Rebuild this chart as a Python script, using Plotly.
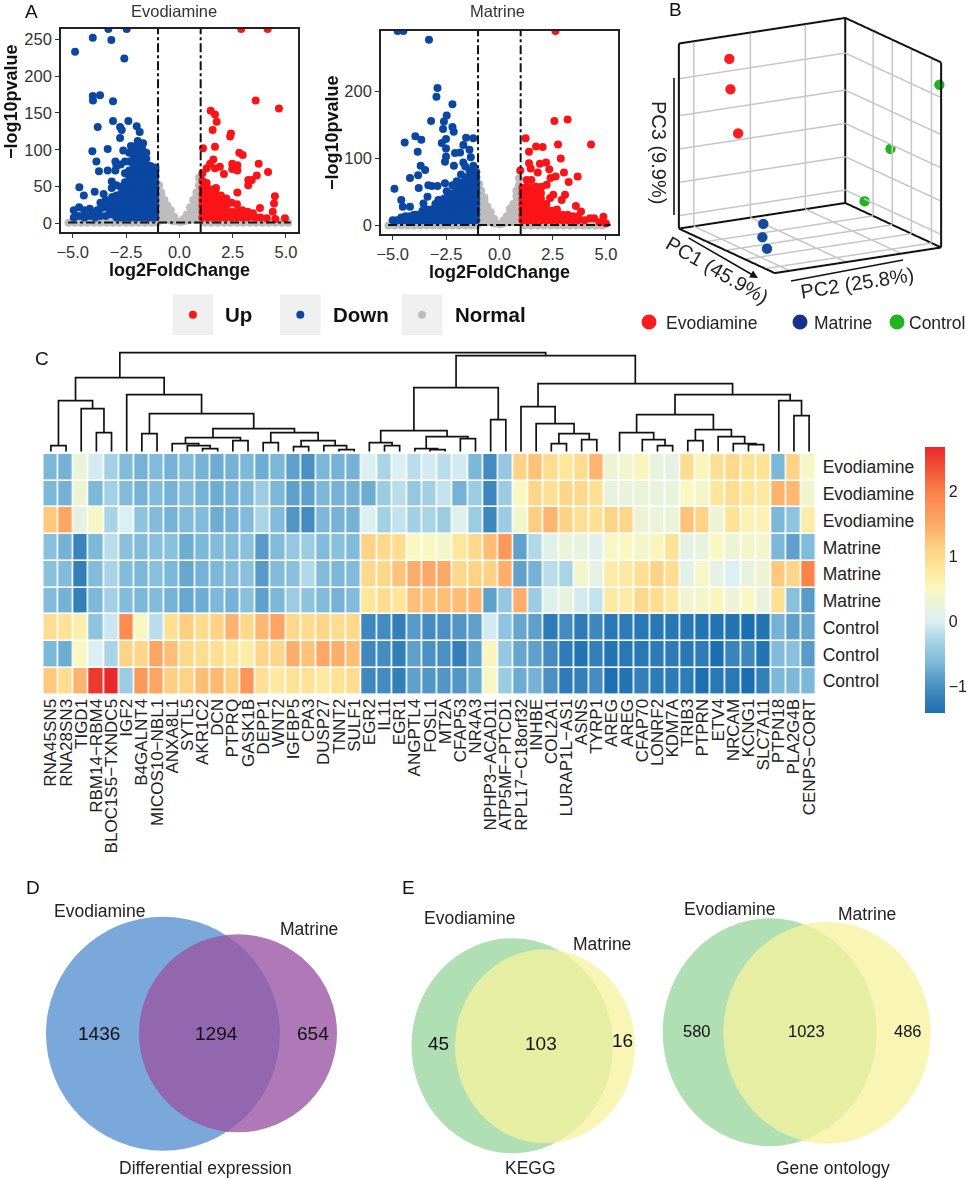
import plotly.graph_objects as go

W, H = 969, 1180
FONT = "Liberation Sans"

# ---------- Panel A data: (x, [y values]) columns ----------
evo_down = [
    (-3.33,[264]),(-2.47,[264]),(-4.06,[252]),(-3.19,[249]),(-4.89,[233]),(-2.58,[224]),
    (-4.06,[173]),(-3.72,[174]),(-4.05,[167]),(-3.11,[166,139]),(-2.39,[139]),(-3.83,[131]),
    (-2.0,[132]),(-2.78,[131,116]),(-2.7,[127]),(-1.86,[124]),(-1.95,[111]),(-1.7,[109]),
    (-2.27,[105]),(-3.36,[101,72]),(-4.08,[98]),(-2.63,[99]),(-3.89,[84]),(-3.77,[71]),
    (-3.0,[84,72]),(-4.69,[49]),(-4.48,[38]),(-3.97,[43]),(-3.17,[57,48]),(-3.55,[40]),
    (-4.95,[8,18]),(-4.7,[10,22]),(-4.45,[8,18]),(-4.2,[10,20]),(-3.95,[8,14]),(-3.85,[18]),
    (-3.7,[10,20,28]),(-3.45,[10,22,32]),(-3.3,[12,20,28]),(-3.15,[12,22,30,36]),
    (-2.95,[8,16,24,32,38,52,78]),(-2.75,[8,16,24,32,40,50,80]),
    (-2.55,[8,16,24,32,40,48,56,68,84]),
    (-2.35,[8,16,24,32,40,48,56,64,72,84,96]),
    (-2.15,[8,16,24,32,40,48,56,64,72,80,88,96,104]),
    (-1.95,[8,16,24,32,40,48,56,64,72,80,88,96,104,112]),
    (-1.75,[8,16,24,32,40,48,56,64,72,80,88,96,102]),
    (-1.55,[8,16,24,32,40,48,56,64,72,80,88,96]),
    (-1.35,[8,16,24,32,40,48,56,64,72,78]),
    (-1.12,[8,16,24,32,40,48,56,64,72,76]),
]
evo_up = [
    (2.9,[264]),(4.14,[264]),(3.58,[167]),(4.67,[156]),(1.47,[153]),(1.67,[148,104,75]),
    (1.75,[138]),(1.56,[127]),(2.42,[122]),(2.38,[118]),(1.11,[102]),(2.81,[96]),(2.97,[93]),
    (1.59,[87]),(1.44,[81]),(1.9,[77]),(2.48,[81,74]),(2.72,[79,72,42]),(3.72,[81]),(1.28,[75]),
    (4.16,[70]),(2.09,[67]),(3.63,[65]),(3.23,[59,52]),(3.4,[59]),(4.48,[37]),(4.44,[27]),
    (4.38,[16]),(3.78,[21]),(4.95,[7]),(4.5,[6]),(4.1,[7]),(3.6,[8]),
    (1.08,[8,16,24,32,40,48,58,68]),(1.28,[8,16,24,32,40,48,55]),(1.5,[8,16,24,32,40,46]),
    (1.72,[8,16,24,32,40,48]),(1.95,[8,16,24,32,38]),(2.2,[8,16,24,34]),(2.45,[8,16,28]),
    (2.7,[8,16,26]),(2.95,[8,18]),(3.2,[8,16]),(3.45,[9,14]),(3.8,[8]),
]
evo_normal = [
    (-5.2,[1]),(-4.9,[1]),(-4.6,[1]),(-4.3,[1]),(-4.0,[1]),(-3.7,[1]),(-3.4,[1]),(-3.1,[1]),(-2.8,[1]),(-2.5,[1]),
    (-2.2,[1]),(-1.9,[1]),(-1.6,[1]),(-1.3,[1]),(-1.05,[1]),(-0.95,[5,12,20,28,36,44,52]),(-0.85,[5,12,20,28,36,42]),
    (-0.7,[5,12,20,28,32]),(-0.55,[5,12,18,24]),(-0.4,[4,10,18]),(-0.25,[3,9]),(-0.1,[3]),(0.05,[2]),(0.2,[3,6]),
    (0.35,[4,12]),(0.5,[5,12,22]),(0.65,[5,12,20,32]),(0.8,[5,12,20,28,36,42]),(0.92,[5,12,20,28,36,44,52,62]),
    (1.2,[1]),(1.5,[1]),(1.8,[1]),(2.1,[1]),(2.4,[1]),(2.7,[1]),(3.0,[1]),(3.3,[1]),(3.6,[1]),(3.9,[1]),(4.2,[1]),(4.5,[1]),(4.8,[1]),(5.1,[1]),
]
mat_down = [
    (-4.77,[290]),(-4.5,[290]),(-3.3,[277]),(-2.9,[205,59]),(-2.95,[192]),(-2.2,[181,147]),(-2.47,[164,51]),
    (-3.2,[156]),(-2.6,[155]),(-2.64,[144]),(-2.14,[140]),(-3.94,[133]),(-3.66,[128]),(-4.44,[124]),
    (-2.5,[129,115,103]),(-2.7,[123]),(-1.56,[131]),(-1.22,[130,89]),(-1.69,[120,94]),(-3.83,[110]),
    (-2.08,[108]),(-1.84,[109]),(-1.4,[113]),(-1.34,[102]),(-2.55,[95,63]),(-3.69,[89]),(-3.48,[83]),
    (-3.81,[75]),(-4.19,[71,28]),(-2.13,[89]),(-3.33,[60]),(-3.17,[59]),(-3.78,[56]),(-4.92,[55]),
    (-3.37,[43]),(-4.6,[38]),(-2.86,[38]),(-4.53,[28]),(-3.56,[33]),
    (-5.0,[8]),(-4.8,[8]),(-4.6,[8,12]),(-4.4,[8,14]),(-4.2,[8,14]),(-4.0,[8,16]),(-3.8,[8,16]),(-3.6,[8,16,22]),
    (-3.4,[8,16,24]),(-3.2,[8,16,24]),(-3.0,[8,16,24,32]),(-2.8,[8,16,24,32]),
    (-2.6,[8,16,24,32,40]),(-2.4,[8,16,24,32,40,48]),(-2.2,[8,16,24,32,40,48,60]),
    (-2.0,[8,16,24,32,40,48,56,66]),(-1.8,[8,16,24,32,40,48,56,64,76]),
    (-1.6,[8,16,24,32,40,48,56,64,72,88]),(-1.4,[8,16,24,32,40,48,56,64,72,82]),
    (-1.2,[8,16,24,32,40,48,56,64,72,80]),(-1.08,[8,16,24,32,40,48,56,64,72,80]),
]
mat_up = [
    (2.63,[290]),(3.2,[158]),(2.58,[156]),(4.3,[121]),(1.23,[130]),(2.75,[121]),(1.39,[110,93]),
    (1.72,[118]),(2.03,[117]),(2.88,[100]),(1.47,[85]),(1.9,[92]),(2.19,[94]),(2.34,[84]),(0.98,[82]),
    (3.03,[79]),(1.8,[79]),(2.64,[73]),(2.4,[71]),(3.67,[73]),(2.22,[61]),(3.25,[65]),(1.98,[58]),
    (3.08,[46]),(2.53,[46]),(2.92,[38]),(2.38,[41]),(3.59,[29]),(3.83,[21]),(4.88,[13]),(4.25,[11]),
    (4.44,[11]),(5.0,[3]),(4.7,[5]),(4.0,[8]),
    (1.08,[8,16,24,32,40,48,56]),(1.28,[8,16,24,32,40,48,58,68]),(1.5,[8,16,24,32,40,48,56,68]),
    (1.72,[8,16,24,32,40,48,58]),(1.95,[8,16,24,32,40,48]),(2.2,[8,16,24,32]),(2.45,[8,16,22]),
    (2.7,[8,16,24]),(2.95,[8,16]),(3.2,[8,16]),(3.45,[8,14]),(3.7,[8,14]),
]
mat_normal = [
    (-5.2,[0]),(-4.9,[0]),(-4.6,[0]),(-4.3,[0]),(-4.0,[0]),(-3.7,[0]),(-3.4,[0]),(-3.1,[0]),(-2.8,[0]),(-2.5,[0]),
    (-2.2,[0]),(-1.9,[0]),(-1.6,[0]),(-1.3,[0]),(-1.05,[0]),(-0.95,[5,12,20,28,36,44,52,62]),(-0.85,[5,12,20,28,36,44,52]),
    (-0.7,[5,12,20,28,36,42]),(-0.55,[5,12,20,28]),(-0.4,[5,12,20]),(-0.25,[3,10]),(-0.1,[3]),(0.05,[2]),(0.2,[3,8]),
    (0.35,[5,14]),(0.5,[5,12,20,25]),(0.65,[5,12,20,28,32]),(0.8,[5,12,20,28,36,44,52]),(0.92,[5,12,20,28,36,44,52,60,70]),
    (1.2,[0]),(1.5,[0]),(1.8,[0]),(2.1,[0]),(2.4,[0]),(2.7,[0]),(3.0,[0]),(3.3,[0]),(3.6,[0]),(3.9,[0]),(4.2,[0]),(4.5,[0]),(4.8,[0]),
]

# ---------- Panel B data ----------
pca_groups = ["Evodiamine", "Matrine", "Control"]
pc1 = {"Evodiamine": [0.2, 0.2, 0.2], "Matrine": [0.293, 0.516, 0.722], "Control": [0.98, 0.47, 0.2]}
pc2 = {"Evodiamine": [0.1875, 0.194, 0.24], "Matrine": [0.338, 0.204, 0.113], "Control": [1.0, 1.0, 1.0]}
pc3 = {"Evodiamine": [0.94, 0.775, 0.53], "Matrine": [0.05, 0.05, 0.05], "Control": [0.875, 0.406, 0.058]}
pc1_ticks = [0.29, 0.49, 0.69, 0.90]
pc2_ticks = [0.09, 0.43, 0.76]
pc3_ticks = [0.07, 0.25, 0.43, 0.61, 0.81]

# ---------- Panel C data ----------
genes = ["RNA45SN5","RNA28SN3","TIGD1","RBM14\u2212RBM4","BLOC1S5\u2212TXNDC5","IGF2","B4GALNT4","MICOS10\u2212NBL1",
         "ANXA8L1","SYTL5","AKR1C2","DCN","PTPRQ","GASK1B","DEPP1","WNT2","IGFBP5","CPA3","DUSP27","TNNT2","SULF1",
         "EGR2","IL11","EGR1","ANGPTL4","FOSL1","MT2A","CFAP53","NR4A3","NPHP3\u2212ACAD11","ATP5MF\u2212PTCD1",
         "RPL17\u2212C18orf32","INHBE","COL2A1","LURAP1L\u2212AS1","ASNS","TYRP1","AREG","AREG","CFAP70","LONRF2",
         "KDM7A","TRIB3","PTPRN","ETV4","NRCAM","KCNG1","SLC7A11","PTPN18","PLA2G4B","CENPS\u2212CORT"]
samples = ["Evodiamine","Evodiamine","Evodiamine","Matrine","Matrine","Matrine","Control","Control","Control"]
row1 = [-.65,-.7,.25,-.05,-.35,-.6,-.7,-.6,-.7,-.6,-.7,-.75,-.7,-.65,-.75,-.65,-.85,-1.0,-.65,-.7,-.7,0,-.3,0,-.2,-.05,-.2,-.05,-.65,-1.05,-.45,1.1,1.25,.95,.8,.95,1.4,.3,.35,.55,.2,.15,.95,.55,.9,1.0,.85,.85,-.65,1.1,.45]
row2 = [-.65,-.7,.3,-.65,-.35,-.6,-.7,-.6,-.7,-.6,-.7,-.75,-.7,-.65,-.4,-.65,-.85,-.85,-.65,-.7,-.7,-.75,-.4,-.2,-.45,-.35,-.15,-.7,-.4,-1.1,-.4,.5,1.05,.9,1.05,1.0,.9,.2,.2,.25,.2,.2,.5,.4,.8,.95,.8,.75,1.4,1.35,.35]
row3 = [1.2,1.55,.15,.45,-.3,0,-.5,-.6,-.7,-.6,-.6,-.75,-.7,-.6,-.3,-.6,-.95,-1.05,-.65,-.7,-.7,0,-.35,-.15,-.35,-.3,-.4,.05,-.4,-1.1,-.4,.4,1.15,1.4,1.1,.9,.9,1.1,1.05,.3,.25,.25,1.25,1.1,.3,.85,.6,.6,-.65,-.5,.7]
row4 = [-.55,-.7,-1.15,-.65,-.2,-.55,-.6,-.55,-.55,-.75,-.65,-.6,-.6,-.55,-.9,-.6,-.45,-.4,-.6,-.55,-.6,1.1,1.0,.95,.5,.5,.4,.8,1.0,1.3,1.7,-.85,-.25,.1,.25,.2,.05,.45,.5,.4,.55,.85,.15,.2,.5,.3,.4,.4,-.65,-.85,-.6]
row5 = [-.55,-.6,-1.2,-.6,-.3,-.6,-.65,-.55,-.65,-.8,-.7,-.65,-.6,-.55,-.9,-.6,-.55,-.25,-.6,-.65,-.6,1.0,1.0,1.25,1.45,1.5,1.5,1.0,1.1,1.1,1.45,-.85,-.7,-.2,-.3,.4,.15,.7,.75,.9,1.1,.95,.1,.45,.15,0,.2,.3,1.2,1.05,1.95]
row6 = [-.6,-.7,-1.2,-.65,-.35,-.6,-.65,-.6,-.7,-.8,-.75,-.65,-.7,-.55,-.85,-.65,-.4,-.5,-.6,-.7,-.6,.8,.95,.8,1.3,1.25,1.3,1.3,1.35,-.85,-.45,1.45,-.4,.05,.2,-.05,-.15,.75,.7,1.0,.95,.75,.35,.4,.55,.25,.5,.2,.9,-.55,-.9]
row7 = [.95,.85,.65,-.5,-.1,1.85,.5,-.2,.9,1.15,.95,1.1,1.4,1.0,1.35,1.55,1.0,.95,1.05,.95,1.0,-1.1,-1.05,-1.2,-.9,-1.05,-1.0,-.95,-.85,-.05,-.5,-.8,-.85,-1.25,-1.05,-1.25,-1.1,-1.3,-1.25,-1.3,-1.3,-1.3,-1.3,-1.35,-1.35,-1.35,-1.42,-1.35,-.7,-.85,-.8]
row8 = [-.65,-.75,.5,0,-.3,1.1,1.05,1.55,1.3,1.0,.95,.9,.8,.7,1.05,1.05,1.45,1.25,1.5,1.45,1.3,-1.1,-1.05,-1.2,-.85,-1.0,-1.0,-1.2,-.85,.55,-.45,-.8,-.85,-1.05,-1.25,-1.35,-1.2,-1.35,-1.3,-1.3,-1.25,-1.25,-1.3,-1.25,-1.42,-1.15,-1.1,-1.35,-.6,-.55,-.9]
row9 = [1.2,.95,1.4,2.55,2.68,-.4,1.7,1.55,1.15,1.1,1.3,1.35,1.15,1.75,.9,.75,.85,.85,.75,.85,.95,-1.1,-1.05,-1.2,-.85,-.95,-.95,-.95,-.75,.45,-.4,-.75,-.7,-1.0,-1.25,-1.2,-1.05,-1.4,-1.35,-1.2,-1.25,-1.25,-1.25,-1.4,-1.3,-1.3,-1.42,-1.2,-.65,-.65,-.65]
heat_values = [row1,row2,row3,row4,row5,row6,row7,row8,row9]
# dendrogram merges: (height, left, right); integers are leaf indices
d_left1 = (51,(6,0,1),(43,2,(19,3,4)))
d_left2 = (57,5,(38,(18,6,7),(23,(14,(8,8,(6,9,(3,10,11))),(11,12,13)),(19,(9,14,15),(11,(5,16,17),(6,18,(2,19,20)))))))
d_mid = (64,(21,(9,21,(6,22,23)),(15,(3,24,(2,25,26)),(13,27,28))),(32,29,30))
d_righta = (45,31,(28,32,(18,(8,33,34),(12,35,36))))
d_rightb = (37,(19,(0,37,38),(12,39,(6,40,41))),(22,(11,42,43),(15,44,(8,45,(7,46,47)))))
d_rightc = (51,48,(36,49,50))
d_root = (99,(74,d_left1,d_left2),(96,d_mid,(68,d_righta,(57,d_rightb,d_rightc))))

# ---------- Panels D / E data ----------
venn_counts = {"de": [1436, 1294, 654], "kegg": [45, 103, 16], "go": [580, 1023, 486]}

# ---------- helpers ----------
def flat(cols):
    xs, ys = [], []
    for x, vals in cols:
        for v in vals:
            xs.append(x); ys.append(v)
    return xs, ys

def dx(a, b): return [a / W, b / W]
def dy(top, bottom): return [1 - bottom / H, 1 - top / H]
def px(x): return x / W
def py(y): return 1 - y / H

annotations, shapes = [], []
def text(x, y, s, size=17, color="#222", bold=False, angle=0, xanchor="center"):
    annotations.append(dict(x=px(x), y=py(y), xref="paper", yref="paper", text=f"<b>{s}</b>" if bold else s,
                            showarrow=False, font=dict(size=size, color=color, family=FONT),
                            textangle=angle, xanchor=xanchor, yanchor="middle"))

def ellipse(cx, cy, rx, ry, color):
    shapes.append(dict(type="circle", xref="paper", yref="paper", x0=px(cx - rx), x1=px(cx + rx),
                       y0=py(cy + ry), y1=py(cy - ry), fillcolor=color, line=dict(width=0), layer="below"))

fig = go.Figure()
RED, BLUE, GREY = "#fb1417", "#0a47a3", "#bfbcbd"

# ---------- Volcano panels ----------
def volcano(normal, down, up, xa, ya):
    for cols, color, name in [(normal, GREY, "Normal"), (down, BLUE, "Down"), (up, RED, "Up")]:
        xs, ys = flat(cols)
        fig.add_trace(go.Scatter(x=xs, y=ys, mode="markers", name=name, showlegend=False, xaxis=xa, yaxis=ya,
                                 marker=dict(size=8, color=color, line=dict(width=0))))

volcano(evo_normal, evo_down, evo_up, "x", "y")
volcano(mat_normal, mat_down, mat_up, "x2", "y2")

axis_common = dict(showgrid=False, zeroline=False, showline=True, mirror=True, linecolor="#222", linewidth=1.6,
                   ticks="outside", ticklen=4, tickcolor="#333", tickwidth=1.2,
                   tickfont=dict(size=16.5, color="#333", family=FONT))
x_ticks = dict(tickvals=[-5, -2.5, 0, 2.5, 5], tickformat=".1f", range=[-5.55, 5.55])

layout_axes = dict(
    xaxis=dict(domain=dx(61, 297.7), anchor="y", **x_ticks, **axis_common),
    yaxis=dict(domain=dy(29, 232.3), anchor="x", range=[-12, 264], tickvals=[0, 50, 100, 150, 200, 250], **axis_common),
    xaxis2=dict(domain=dx(381, 617.7), anchor="y2", **x_ticks, **axis_common),
    yaxis2=dict(domain=dy(31, 234.3), anchor="x2", range=[-13, 290], tickvals=[0, 100, 200], **axis_common),
)
for v in (-1, 1):
    for xr, yr in (("x", "y"), ("x2", "y2")):
        shapes.append(dict(type="line", xref=xr, yref=f"{yr} domain", x0=v, x1=v, y0=0, y1=1,
                           line=dict(color="#111", width=2, dash="dashdot")))
for xr, yr, base in (("x", "y", 1.3), ("x2", "y2", 1.0)):
    shapes.append(dict(type="line", xref=f"{xr} domain", yref=yr, x0=0.03, x1=0.97, y0=base, y1=base,
                       line=dict(color="#111", width=2, dash="dashdot")))

text(174, 11, "Evodiamine", size=16.5, color="#333")
text(497, 11, "Matrine", size=16.5, color="#333")
text(179, 270, "log2FoldChange", size=18, bold=True, color="#111")
text(499, 272, "log2FoldChange", size=18, bold=True, color="#111")
text(11, 102, "\u2212log10pvalue", size=18, bold=True, color="#111", angle=-90)
text(332, 133, "\u2212log10pvalue", size=18, bold=True, color="#111", angle=-90)

# volcano legend keys
for (x0, dotx, color, label, lx) in [(172.7, 192.9, RED, "Up", 223.3), (280, 300.3, BLUE, "Down", 330.7),
                                     (401.7, 422, GREY, "Normal", 452.7)]:
    shapes.append(dict(type="rect", xref="paper", yref="paper", x0=px(x0), x1=px(x0 + 40.6), y0=py(335), y1=py(294.3),
                       fillcolor="#f0f0f0", line=dict(width=0), layer="below"))
    shapes.append(dict(type="circle", xref="paper", yref="paper", x0=px(dotx - 4), x1=px(dotx + 4), y0=py(318.7), y1=py(310.7),
                       fillcolor=color, line=dict(width=0)))
    text(lx, 315, label, size=20.5, bold=True, color="#111", xanchor="left")

# ---------- PCA 3D ----------
grid_x, grid_y, grid_z = [], [], []
def seg(a, b):
    for k, (u, v) in enumerate(zip(a, b)):
        (grid_x, grid_y, grid_z)[k].extend([u, v, None])
for t in pc2_ticks:
    seg((0, t, 0), (0, t, 1))      # left wall verticals
    seg((0, t, 0), (1, t, 0))      # floor
for t in pc1_ticks:
    seg((t, 1, 0), (t, 1, 1))      # right wall verticals
    seg((t, 0, 0), (t, 1, 0))      # floor
for t in pc3_ticks:
    seg((0, 0, t), (0, 1, t))      # left wall horizontals
    seg((0, 1, t), (1, 1, t))      # right wall horizontals
fig.add_trace(go.Scatter3d(x=grid_x, y=grid_y, z=grid_z, mode="lines", line=dict(color="#c6c6c6", width=3),
                           showlegend=False, hoverinfo="skip", scene="scene"))
box_x = [0, 0, 1, None, 0, 0, None, 0, 1, 1, None, 0, 1, None, 1, 1, None, 0, 0]
box_y = [0, 1, 1, None, 0, 0, None, 0, 0, 1, None, 1, 1, None, 1, 1, None, 1, 0]
box_z = [1, 1, 1, None, 1, 0, None, 0, 0, 0, None, 0, 0, None, 0, 1, None, 0, 0]
fig.add_trace(go.Scatter3d(x=box_x + [None, 0, 0], y=box_y + [None, 1, 1], z=box_z + [None, 0, 1], mode="lines",
                           line=dict(color="#111", width=4), showlegend=False, hoverinfo="skip", scene="scene"))
pca_colors = {"Evodiamine": "#fb1c20", "Matrine": "#15499b", "Control": "#20b41e"}
for g in pca_groups:
    fig.add_trace(go.Scatter3d(x=pc1[g], y=pc2[g], z=pc3[g], mode="markers", name=g, showlegend=False, scene="scene",
                               marker=dict(size=6, color=pca_colors[g], line=dict(width=0))))

def scene_axis(ticks):
    return dict(range=[0, 1], tickvals=ticks, showticklabels=False, ticks="", title=dict(text=""), showline=False,
                showbackground=False, zeroline=False, showspikes=False, showgrid=False)

scene = dict(domain=dict(x=dx(650.5, 968.5), y=dy(0, 291)), aspectmode="manual", aspectratio=dict(x=1.32, y=1.32, z=1.32),
             xaxis=scene_axis(pc1_ticks), yaxis=scene_axis(pc2_ticks), zaxis=scene_axis(pc3_ticks),
             bgcolor="rgba(0,0,0,0)",
             camera=dict(projection=dict(type="orthographic"), up=dict(x=0, y=0, z=1),
                         center=dict(x=0, y=0, z=0), eye=dict(x=1.25, y=-0.72, z=0.40)))

text(659, 152, "PC3 (9.9%)", size=20, angle=90)
text(857, 283, "PC2 (25.8%)", size=20, angle=-9)
text(717, 270, "PC1 (45.9%)", size=20, angle=30)
shapes.append(dict(type="line", xref="paper", yref="paper", x0=px(674), x1=px(674), y0=py(215), y1=py(78), line=dict(color="#111", width=1.6)))
shapes.append(dict(type="line", xref="paper", yref="paper", x0=px(791), x1=px(903), y0=py(281), y1=py(260), line=dict(color="#111", width=1.6)))
annotations.append(dict(x=px(758), y=py(278), xref="paper", yref="paper", ax=687 - 758, ay=237 - 278, text="",
                        showarrow=True, arrowhead=2, arrowsize=1, arrowwidth=1.6, arrowcolor="#111"))
for cx, label, lx in [(649, "Evodiamine", 664), (800, "Matrine", 812), (897, "Control", 907)]:
    shapes.append(dict(type="circle", xref="paper", yref="paper", x0=px(cx - 7.5), x1=px(cx + 7.5), y0=py(329.5), y1=py(314.5),
                       fillcolor={"Evodiamine": "#fb1c20", "Matrine": "#15308f", "Control": "#20b41e"}[label], line=dict(width=0)))
    text(lx, 323, label, size=17.5, color="#222", xanchor="left")

# ---------- Dendrogram ----------
dend_x, dend_y = [], []
def walk(node):
    if isinstance(node, int):
        return node, 0
    h, a, b = node
    xa, ha = walk(a)
    xb, hb = walk(b)
    if h > 0:
        dend_x.extend([xa, xa, xb, xb, None])
        dend_y.extend([ha, h, h, hb, None])
    return (xa + xb) / 2, h
walk(d_root)
fig.add_trace(go.Scatter(x=dend_x, y=dend_y, mode="lines", line=dict(color="#111", width=1.7), showlegend=False,
                         hoverinfo="skip", xaxis="x3", yaxis="y3"))

# ---------- Heatmap ----------
z_lo, z_hi = -1.415, 2.68
stops = [(-1.415, "#1a6fb0"), (-1.0, "#4a90c2"), (-0.65, "#7cb8d8"), (-0.3, "#a8d4e6"), (0.0, "#dceff2"),
         (0.5, "#f9f8c0"), (0.8, "#fee69b"), (1.1, "#fed385"), (1.5, "#fda966"), (2.0, "#fb8048"), (2.68, "#e8282a")]
colorscale = [[(v - z_lo) / (z_hi - z_lo), c] for v, c in stops]
fig.add_trace(go.Heatmap(z=heat_values, x=list(range(len(genes))), y=list(range(len(samples))), xaxis="x4", yaxis="y4",
                         zmin=z_lo, zmax=z_hi, colorscale=colorscale, xgap=1.6, ygap=1.6, hoverongaps=False,
                         colorbar=dict(x=925 / W, xanchor="left", y=py(447), yanchor="top", thickness=20, len=266,
                                       lenmode="pixels", thicknessmode="pixels", xpad=0, ypad=0, outlinewidth=0,
                                       tickvals=[-1, 0, 1, 2], ticks="", tickfont=dict(size=16, color="#222", family=FONT))))
heat_x = dx(43.3, 816.7)
layout_axes.update(
    xaxis3=dict(domain=heat_x, anchor="y3", range=[-0.5, 50.5], visible=False),
    yaxis3=dict(domain=dy(340, 451.7), anchor="x3", range=[0, 111.7], visible=False),
    xaxis4=dict(domain=heat_x, anchor="y4", range=[-0.5, 50.5], tickvals=list(range(len(genes))), ticktext=genes,
                tickangle=-90, ticks="", showgrid=False, zeroline=False, showline=False,
                tickfont=dict(size=17, color="#222", family=FONT)),
    yaxis4=dict(domain=dy(454, 694.5), anchor="x4", side="right", range=[8.5, -0.5], tickvals=list(range(len(samples))),
                ticktext=samples, ticks="", showgrid=False, zeroline=False, showline=False, ticklabelstandoff=5,
                tickfont=dict(size=17.5, color="#222", family=FONT)),
)

# ---------- Venn diagrams ----------
ellipse(163, 1033.7, 117, 117, "#7ba8db")
ellipse(238, 1033.3, 99, 99, "rgba(152,85,163,0.79)")
ellipse(512.3, 1045.7, 100.8, 107.5, "#afdfb3")
ellipse(545, 1046.3, 90, 97, "rgba(247,243,156,0.75)")
ellipse(769.7, 1032.3, 107, 114, "#afdfb3")
ellipse(827, 1032.7, 103.7, 111, "rgba(247,243,156,0.75)")

for (x, y, name, idx, size) in [(99.3, 1033, "de", 0, 19), (216.7, 1033, "de", 1, 19), (312.7, 1033, "de", 2, 19),
                                (438, 1043, "kegg", 0, 19), (541.3, 1043, "kegg", 1, 19), (622.7, 1040, "kegg", 2, 19),
                                (697.3, 1031, "go", 0, 16.5), (806.7, 1031, "go", 1, 16.5), (907.7, 1031, "go", 2, 16.5)]:
    text(x, y, str(venn_counts[name][idx]), size=size, color="#111")

for x, y, s in [(99, 910.7, "Evodiamine"), (309, 929, "Matrine"), (205, 1167.7, "Differential expression"),
                (469, 918, "Evodiamine"), (602, 943.7, "Matrine"), (530.7, 1167.7, "KEGG"),
                (729, 908.7, "Evodiamine"), (866.7, 914.3, "Matrine"), (832.7, 1167.7, "Gene ontology")]:
    text(x, y, s, size=17.5, color="#222")

for x, y, s in [(32, 11, "A"), (675, 10, "B"), (41.7, 358, "C"), (33, 887, "D"), (408, 887, "E")]:
    text(x, y, s, size=19, color="#111")

fig.update_layout(width=W, height=H, margin=dict(l=0, r=0, t=0, b=0, autoexpand=False), paper_bgcolor="white", plot_bgcolor="white",
                  font=dict(family=FONT), showlegend=False, scene=scene, annotations=annotations, shapes=shapes,
                  **layout_axes)
fig.write_html("out.html", config={"displayModeBar": False}, post_script="document.body.style.margin='0';")
